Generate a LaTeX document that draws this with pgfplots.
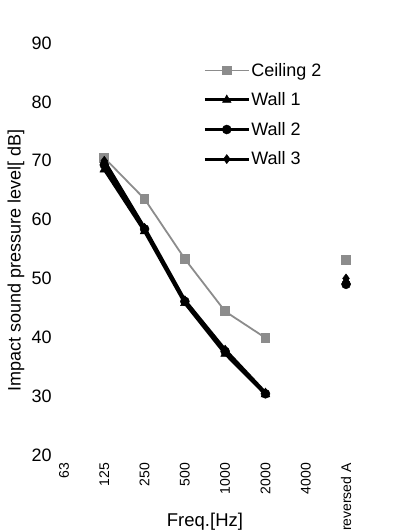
\documentclass[border=0pt]{standalone}
\usepackage{fontspec}
\setmainfont{Liberation Sans}
\usepackage{pgfplots}
\pgfplotsset{compat=1.18}
\definecolor{ceilgray}{RGB}{140,140,140}
\begin{document}
\begin{tikzpicture}
\useasboundingbox (0,0) rectangle (404pt,532pt);
\begin{axis}[
  at={(51.9pt,77pt)},anchor=south west,
  scale only axis,
  width=314.3pt,height=412pt,
  xmin=-0.3,xmax=7.5,
  ymin=20,ymax=90,
  axis line style={draw=none},
  major tick length=0pt,
  xtick={0,1,2,3,4,5,6,7},
  xticklabels={63,125,250,500,1000,2000,4000,reversed A},
  ytick={20,30,40,50,60,70,80,90},
  /pgf/number format/assume math mode=true,
  yticklabel style={font=\fontsize{18}{18}\selectfont,inner sep=0pt,anchor=east,xshift=0pt},
  xticklabel style={font=\fontsize{14}{14}\selectfont,rotate=90,anchor=east,inner sep=0pt,xshift=-8pt},
  xlabel={Freq.[Hz]},
  xlabel style={font=\fontsize{18.5}{18.5}\selectfont,at={(axis description cs:0.487,-0.163)},anchor=center},
  ylabel={Impact sound pressure level[ dB]},
  ylabel style={font=\fontsize{18}{18}\selectfont,at={(axis description cs:-0.114,0.473)},anchor=center,rotate=0},
  unbounded coords=jump,
  legend style={at={(axis description cs:0.481,0.954)},anchor=north west,draw=none,fill=none,
    font=\fontsize{18}{18}\selectfont,row sep=13pt,inner sep=0pt,
    nodes={inner sep=1pt}},
  legend cell align=left,
  legend image code/.code={\draw[#1,mark repeat=2,mark phase=2] plot coordinates {(0pt,0pt)(22pt,0pt)(44pt,0pt)};},
  clip=false,
]
\addplot[ceilgray,line width=1.8pt,mark=square*,mark size=4pt,mark options={solid,fill=ceilgray,draw=ceilgray}]
  coordinates {(1,70.5) (2,63.5) (3,53.3) (4,44.4) (5,39.9) (6,nan) (7,53.1)};
\addlegendentry{Ceiling 2}
\addplot[black,line width=3pt,mark=triangle*,mark size=5pt,mark options={solid,line width=0.5pt}]
  coordinates {(1,68.5) (2,58.0) (3,45.8) (4,37.2) (5,30.3) (6,nan) (7,49.5)};
\addlegendentry{Wall 1}
\addplot[black,line width=3pt,mark=*,mark size=4.5pt,mark options={solid,line width=0.5pt}]
  coordinates {(1,69.3) (2,58.4) (3,46.1) (4,37.6) (5,30.4) (6,nan) (7,49.0)};
\addlegendentry{Wall 2}
\addplot[black,line width=3pt,mark=diamond*,mark size=4.5pt,mark options={solid,line width=0.5pt}]
  coordinates {(1,70.0) (2,58.6) (3,46.3) (4,37.9) (5,30.6) (6,nan) (7,50.0)};
\addlegendentry{Wall 3}
\end{axis}
\end{tikzpicture}
\end{document}
